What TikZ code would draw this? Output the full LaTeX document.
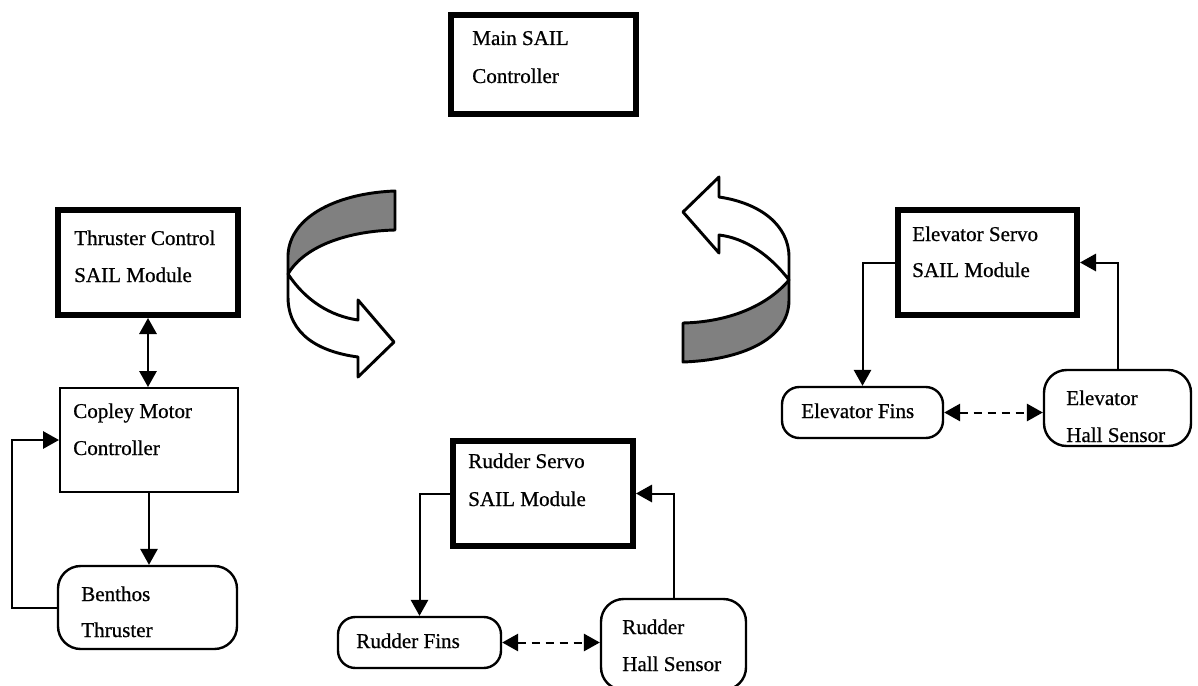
\documentclass[tikz,border=0pt]{standalone}
\usepackage{fontspec}
\setmainfont[FakeBold=0.7]{Liberation Serif}
\usetikzlibrary{arrows.meta}
\begin{document}
\begin{tikzpicture}[x=0.75pt,y=-0.75pt,
  thickbox/.style={draw, line width=4.5pt, inner sep=0pt},
  thinbox/.style={draw, line width=1.5pt, inner sep=0pt},
  roundbox/.style={draw, line width=1.8pt, rounded corners=15pt, inner sep=0pt},
  txt/.style={anchor=base west, inner sep=0pt, font=\fontsize{15.8}{19}\selectfont},
  arr/.style={line width=1.5pt, -{Triangle[length=12pt,width=13pt]}},
  darr/.style={line width=1.5pt, {Triangle[length=12pt,width=13pt]}-{Triangle[length=12pt,width=13pt]}},
  dasharr/.style={darr, dash pattern=on 6pt off 4.5pt},
  ribbon/.style={draw, line width=2.2pt, line join=round},
  shadefill/.style={fill=black!50}]
\clip (0,0) rectangle (1198,685);
\fill[white] (0,0) rectangle (1198,685);

% boxes
\node[thickbox, minimum width=138.75pt, minimum height=74.25pt] (main) at (543.5,64.5) {};
\node[thickbox, minimum width=135pt, minimum height=78.75pt] (thr) at (148,262.5) {};
\node[thickbox, minimum width=135pt, minimum height=78.75pt] (rs) at (543,493.5) {};
\node[thickbox, minimum width=134.25pt, minimum height=78.75pt] (es) at (987.5,262.5) {};
\node[thinbox, minimum width=133.5pt, minimum height=78pt] (cop) at (149,440) {};
\node[roundbox, rounded corners=17pt, minimum width=134.25pt, minimum height=62.25pt] (ben) at (147.5,607.5) {};
\node[roundbox, rounded corners=13pt, minimum width=122.25pt, minimum height=38.25pt] (rf) at (419.5,642.5) {};
\node[roundbox, rounded corners=17pt, minimum width=108.75pt, minimum height=68.25pt] (rh) at (673.5,644.5) {};
\node[roundbox, rounded corners=13pt, minimum width=120.75pt, minimum height=38.25pt] (ef) at (862.5,412.5) {};
\node[roundbox, rounded corners=17pt, minimum width=110.25pt, minimum height=57pt] (eh) at (1117.5,408) {};

% texts
\node[txt] (mainA) at (472,45) {Main SAIL};
\node[txt] (mainB) at (472,83) {Controller};
\node[txt] (thrA) at (74,245) {Thruster Control};
\node[txt] (thrB) at (74,282) {SAIL Module};
\node[txt] (copA) at (73,418) {Copley Motor};
\node[txt] (copB) at (73,455) {Controller};
\node[txt] (benA) at (81,601) {Benthos};
\node[txt] (benB) at (81,637) {Thruster};
\node[txt] (rsA) at (468,468) {Rudder Servo};
\node[txt] (rsB) at (468,506) {SAIL Module};
\node[txt] (rfA) at (356,648) {Rudder Fins};
\node[txt] (rhA) at (622,634) {Rudder};
\node[txt] (rhB) at (622,671) {Hall Sensor};
\node[txt] (esA) at (912,241) {Elevator Servo};
\node[txt] (esB) at (912,277) {SAIL Module};
\node[txt] (efA) at (801,418) {Elevator Fins};
\node[txt] (ehA) at (1066,405) {Elevator};
\node[txt] (ehB) at (1066,442) {Hall Sensor};

% connectors
\draw[darr] (thr.south) -- (thr.south |- cop.north);
\draw[arr] (cop.south) -- (cop.south |- ben.north);
\draw[arr] (ben.west) -- ++(-45,0) |- (cop.west);
\draw[arr] (rs.west) -| (rf.north);
\draw[arr] (rh.north) |- (rs.east);
\draw[dasharr] (rf.east) -- (rf.east -| rh.west);
\draw[arr] (es.west) -| (ef.north);
\draw[arr] (eh.north) |- (es.east);
\draw[dasharr] (ef.east) -- (ef.east -| eh.west);

% left ribbon arrow
\path[ribbon, shadefill] (395,191) .. controls (340,193) and (290,215) .. (288,255)
  -- (288,274) .. controls (305,245) and (350,231) .. (395,230) -- cycle;
\path[ribbon, fill=white] (288,274) -- (288,297) .. controls (288,335) and (320,352) .. (358,357)
  -- (358,377) -- (394,342) -- (358,300) -- (358,320)
  .. controls (330,316) and (305,300) .. (288,274) -- cycle;

% right ribbon arrow
\path[ribbon, fill=white] (789,280) -- (789,257) .. controls (789,225) and (760,203) .. (719,197)
  -- (719,177) -- (683,212) -- (719,253) -- (719,235)
  .. controls (745,238) and (770,255) .. (789,280) -- cycle;
\path[ribbon, shadefill] (789,280) .. controls (768,305) and (730,322) .. (683,323)
  -- (683,362) .. controls (740,360) and (789,340) .. (789,300) -- cycle;
\end{tikzpicture}
\end{document}
